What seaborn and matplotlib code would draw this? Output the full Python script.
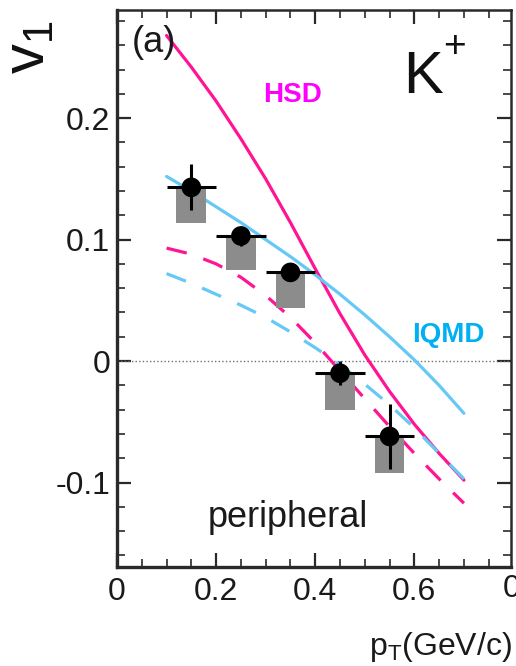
import numpy as np
import pandas as pd
import matplotlib
matplotlib.use("Agg")
import matplotlib.pyplot as plt
from matplotlib.ticker import MultipleLocator, FixedLocator, FuncFormatter
from matplotlib.patches import Rectangle
import seaborn as sns

# ---- model curves: v1 vs pT ----
pt_model = [0.10, 0.15, 0.20, 0.25, 0.30, 0.35, 0.40, 0.45, 0.50, 0.55, 0.60, 0.65, 0.70]
hsd_full = [0.268, 0.242, 0.214, 0.183, 0.150, 0.114, 0.076, 0.039, 0.005, -0.025, -0.052, -0.076, -0.098]
hsd_dash = [0.093, 0.088, 0.080, 0.069, 0.054, 0.036, 0.015, -0.008, -0.031, -0.054, -0.076, -0.097, -0.117]
iqmd_full = [0.152, 0.140, 0.127, 0.114, 0.100, 0.086, 0.071, 0.055, 0.038, 0.020, 0.001, -0.020, -0.043]
iqmd_dash = [0.072, 0.064, 0.055, 0.046, 0.036, 0.024, 0.011, -0.003, -0.019, -0.036, -0.055, -0.076, -0.097]

# ---- measured K+ v1 (peripheral) ----
pt_data = [0.15, 0.25, 0.35, 0.45, 0.55]
v1_data = [0.143, 0.103, 0.073, -0.010, -0.062]
v1_stat = [0.019, 0.008, 0.005, 0.010, 0.027]
v1_sys_low = [0.114, 0.075, 0.044, -0.040, -0.092]
pt_halfbin = 0.05

x_ticks = [0.0, 0.2, 0.4, 0.6]
y_ticks = [-0.1, 0.0, 0.1, 0.2]

MAGENTA = "#ff1493"
SKY = "#66c8f5"

sns.set_theme(style="ticks")
plt.rcParams["font.family"] = ["Liberation Sans", "DejaVu Sans"]
plt.rcParams["mathtext.default"] = "regular"
plt.rcParams["axes.unicode_minus"] = False

fig = plt.figure(figsize=(5.16, 6.66), dpi=100)
W, H = 516, 666
ax = fig.add_axes([117 / W, 1 - 567 / H, 394 / W, 557 / H])

# long-form table of the transport-model curves
rows = []
for model, variant, vals in [("HSD", "a", hsd_full), ("HSD", "b", hsd_dash),
                             ("IQMD", "a", iqmd_full), ("IQMD", "b", iqmd_dash)]:
    for p, v in zip(pt_model, vals):
        rows.append({"pt": p, "v1": v, "model": model, "variant": variant})
curves = pd.DataFrame(rows)

ax.axhline(0, color="#707070", lw=1.0, ls=(0, (1, 1.6)), zorder=1)

sns.lineplot(data=curves, x="pt", y="v1", hue="model", style="variant",
             palette={"HSD": MAGENTA, "IQMD": SKY},
             dashes={"a": "", "b": (6.5, 5.5)}, lw=2.3, legend=False,
             sort=False, ax=ax, zorder=2)
for line in ax.get_lines():
    line.set_solid_joinstyle("round")
    line.set_dash_joinstyle("round")

# systematic boxes
for p, v, lo in zip(pt_data, v1_data, v1_sys_low):
    ax.add_patch(Rectangle((p - 0.03, lo), 0.06, v - lo, facecolor="#8c8c8c",
                           edgecolor="none", zorder=3))

# data points with statistical errors and bin widths
ax.errorbar(pt_data, v1_data, yerr=v1_stat, xerr=pt_halfbin, fmt="none",
            ecolor="black", elinewidth=2.2, capsize=0, zorder=4)
sns.scatterplot(x=pt_data, y=v1_data, color="black", s=200, edgecolor="none",
                ax=ax, zorder=5)

ax.set_xlim(0, 0.795)
ax.set_ylim(-0.1695, 0.289)
ax.xaxis.set_major_locator(FixedLocator(x_ticks))
ax.xaxis.set_minor_locator(MultipleLocator(0.05))
ax.yaxis.set_major_locator(FixedLocator(y_ticks))
ax.yaxis.set_minor_locator(MultipleLocator(0.02))
fmt = FuncFormatter(lambda v, _: "0" if abs(v) < 1e-9 else f"{v:g}")
ax.xaxis.set_major_formatter(fmt)
ax.yaxis.set_major_formatter(fmt)
ax.tick_params(which="both", direction="in", top=True, right=True,
               colors="#2a2a2a", labelcolor="#1a1a1a", labelsize=23)
ax.tick_params(which="major", length=10, width=1.6)
ax.tick_params(axis="y", which="major", pad=5)
ax.tick_params(axis="x", which="major", pad=7)
ax.tick_params(which="minor", length=6, width=1.2)
for side in ["left", "bottom"]:
    ax.spines[side].set_linewidth(2.4)
for side in ["top", "right"]:
    ax.spines[side].set_linewidth(1.8)
for s in ax.spines.values():
    s.set_color("#2a2a2a")
ax.set_xlabel("")
ax.set_ylabel("")

# annotations
ax.text(0.030, 0.262, "(a)", fontsize=26, ha="left", va="center", color="#1a1a1a")
ax.text(0.3535, 0.2193, "HSD", fontsize=20, fontweight="bold", color="#ff00ff",
        ha="center", va="center")
ax.text(0.596, 0.0159, "IQMD", fontsize=20, fontweight="bold", color="#00b0f0",
        ha="left", va="baseline")
ax.text(0.578, 0.2206, "K", fontsize=43, ha="left", va="baseline", color="#111111")
fig.text(443 / W, 1 - 29 / H, "+", fontsize=28, ha="left", va="top", color="#111111")
ax.text(0.184, -0.1366, "peripheral", fontsize=26, ha="left", va="baseline",
        color="#1a1a1a")

fig.text(512 / W, 1 - 655 / H, r"$\mathregular{p_T}$(GeV/c)", fontsize=23,
         ha="right", va="baseline", color="#1a1a1a")
fig.text(2 / W, 1 - 20 / H, r"$\mathregular{v_1}$", fontsize=43, rotation=90,
         ha="left", va="top", color="#111111")
fig.text(503 / W, 1 - 597 / H, "0", fontsize=23, ha="left", va="baseline",
         color="#1a1a1a")

fig.savefig("out.png", dpi=100)
